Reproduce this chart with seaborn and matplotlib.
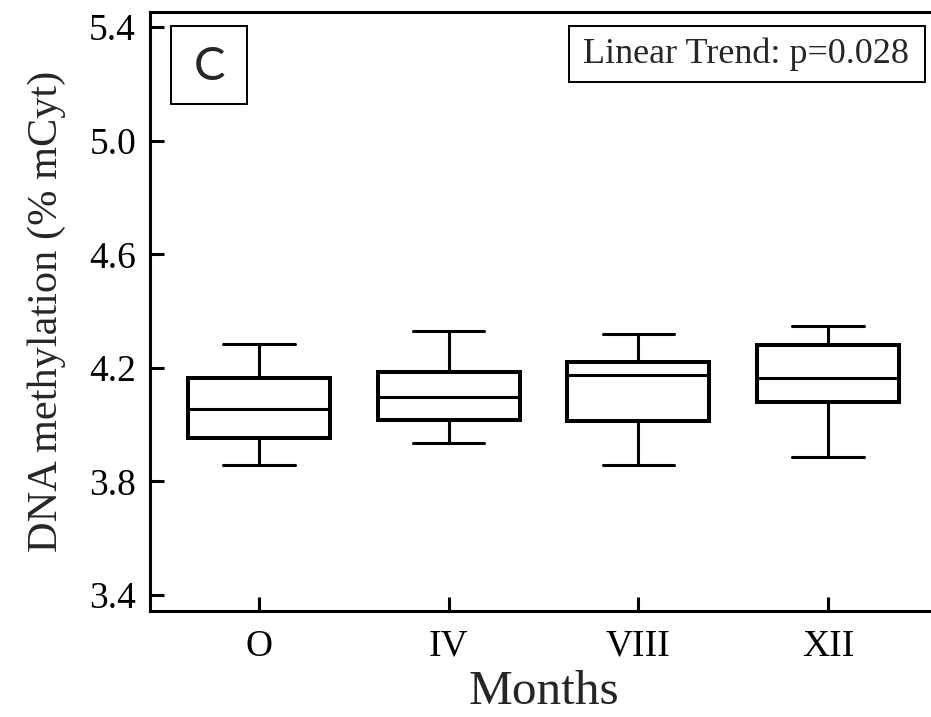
import pandas as pd
import seaborn as sns
import matplotlib.pyplot as plt
from matplotlib.patches import Rectangle

# values: whisker low, Q1, median, Q3, whisker high
months = ["O", "IV", "VIII", "XII"]
o_vals = [3.858, 3.954, 4.056, 4.165, 4.285]
iv_vals = [3.936, 4.017, 4.098, 4.186, 4.330]
viii_vals = [3.858, 4.013, 4.175, 4.221, 4.320]
xii_vals = [3.887, 4.080, 4.165, 4.281, 4.348]
y_ticks = [3.4, 3.8, 4.2, 4.6, 5.0, 5.4]

data = pd.DataFrame({
    "Month": [m for m, v in zip(months, [o_vals, iv_vals, viii_vals, xii_vals]) for _ in v],
    "Meth": o_vals + iv_vals + viii_vals + xii_vals,
})

sns.set_style("ticks")
plt.rcParams["font.family"] = ["Liberation Serif", "DejaVu Serif"]

fig = plt.figure(figsize=(9.31, 7.17), dpi=100)
ax = fig.add_axes([150 / 931, 106 / 717, 787 / 931, 599 / 717])

sns.boxplot(data=data, x="Month", y="Meth", order=months, whis=(0, 100),
            width=0.75, color="white", linecolor="black", ax=ax,
            boxprops=dict(linewidth=2.9, edgecolor="black", facecolor="white"),
            medianprops=dict(linewidth=2.2, color="black"),
            whiskerprops=dict(linewidth=2.2, color="black"),
            capprops=dict(linewidth=2.2, color="black"),
            capwidths=0.375)

ax.set_xlim(-0.575, 3.575)
ax.set_ylim(3.344, 5.453)
ax.set_yticks(y_ticks)
ax.set_yticklabels([f"{t:.1f}" for t in y_ticks])
ax.tick_params(direction="in", length=10, width=2.2, labelsize=27, colors="black")
ax.tick_params(axis="y", pad=10)
ax.tick_params(axis="x", pad=13)
for s in ax.spines.values():
    s.set_linewidth(2.2)
    s.set_color("black")
ax.spines["right"].set_visible(False)

ax.set_xlabel("Months", fontsize=35.5, labelpad=5)
ax.set_ylabel("DNA methylation (% mCyt)", fontsize=30.5, labelpad=17)

# panel letter box
fig.patches.append(Rectangle((171 / 931, 1 - 104 / 717), 76 / 931, 78 / 717,
                             transform=fig.transFigure, fill=False, lw=1.4, ec="black"))
fig.text(209 / 931, 1 - 67 / 717, "C", fontsize=34, family=["Lato", "DejaVu Sans"],
         ha="center", va="center")

# trend box
fig.patches.append(Rectangle((569 / 931, 1 - 82 / 717), 356 / 931, 56 / 717,
                             transform=fig.transFigure, fill=False, lw=1.4, ec="black"))
fig.text(746 / 931, 1 - 54 / 717, "Linear Trend: p=0.028", fontsize=26,
         ha="center", va="center")

fig.savefig("out.png", dpi=100)
